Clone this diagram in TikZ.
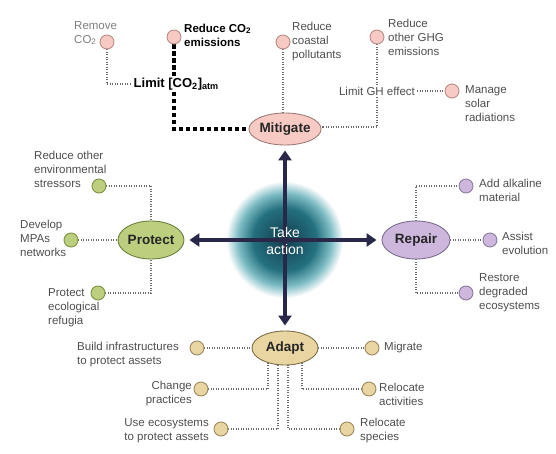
\documentclass[tikz,border=0pt]{standalone}
\usepackage{fontspec}
\setmainfont{Liberation Sans}
\usetikzlibrary{arrows.meta,shapes.geometric,backgrounds}

% palette
\definecolor{navy}{HTML}{2A2849}
\definecolor{dotgray}{HTML}{6B6B6B}
\definecolor{labgray}{HTML}{4E4E4E}
\definecolor{lightlab}{HTML}{7E7E7E}
\definecolor{pinkF}{HTML}{F7CBC4}
\definecolor{pinkD}{HTML}{A07C76}
\definecolor{pinkC}{HTML}{B98E88}
\definecolor{greenF}{HTML}{BCCF7E}
\definecolor{greenD}{HTML}{6E7F3B}
\definecolor{greenC}{HTML}{7F9444}
\definecolor{purpF}{HTML}{CDB7DD}
\definecolor{purpD}{HTML}{7F6E8E}
\definecolor{purpC}{HTML}{8E7C9E}
\definecolor{tanF}{HTML}{E8D5A2}
\definecolor{tanD}{HTML}{7F6E4A}
\definecolor{tanC}{HTML}{9C8A5E}
\definecolor{glowA}{HTML}{133D4E}
\definecolor{glowC}{HTML}{24707F}
\definecolor{glowD}{HTML}{7DBCC4}

\tikzset{
  hub/.style={ellipse, minimum width=66pt, minimum height=32pt, inner sep=0pt,
    line width=0.9pt, font=\fontsize{13.5}{15}\selectfont\bfseries, text=black!85},
  dotc/.style={circle, minimum size=14pt, inner sep=0pt, line width=0.9pt},
  pinkdot/.style={dotc, fill=pinkF, draw=pinkC},
  greendot/.style={dotc, fill=greenF, draw=greenC},
  purpdot/.style={dotc, fill=purpF, draw=purpC},
  tandot/.style={dotc, fill=tanF, draw=tanC},
  lab/.style={font=\fontsize{11.5}{14}\selectfont, text=labgray, inner sep=0pt, align=left},
  boldlab/.style={lab, text=black, font=\fontsize{11.5}{14}\selectfont\bfseries},
  dotline/.style={draw=dotgray, line width=1.2pt, dash pattern=on 1pt off 1.5pt},
  thickline/.style={draw=black, line width=4.5pt, dash pattern=on 4.5pt off 2.5pt},
  bigarrow/.style={draw=navy, line width=4pt, shorten >=5pt,
    -{Triangle[length=10pt,width=13pt]}},
}

\begin{document}
\begin{tikzpicture}[x=1pt,y=-1pt]
\useasboundingbox (0,0) rectangle (556,454);

% hubs
\coordinate (hubc) at (285,240);
\node[hub, fill=pinkF, draw=pinkD] (mit) at (285,129) {Mitigate};
\node[hub, fill=greenF, draw=greenD, minimum height=38pt] (pro) at (151,240) {Protect};
\node[hub, fill=purpF, draw=purpD, minimum width=68pt, minimum height=38pt] (rep) at (416,240) {Repair};
\node[hub, fill=tanF, draw=tanD, minimum height=34pt] (ada) at (285,348) {Adapt};
\node[font=\fontsize{14}{17}\selectfont, text=white, align=center, inner sep=0pt] (act) at (285,241) {Take\\action};

% Mitigate branch
\node[pinkdot] (rmv) at (107,42) {};
\node[lab, text=lightlab, anchor=west] at (74,33) {Remove\\CO\textsubscript{2}};
\node[pinkdot] (rco) at (174,37) {};
\node[boldlab, anchor=west] at (184,35) {Reduce CO\textsubscript{2}\\emissions};
\node[boldlab, font=\fontsize{13}{15}\selectfont\bfseries, anchor=west, inner sep=1.5pt] (lim) at (132,84) {Limit [CO\textsubscript{2}]\textsubscript{atm}};
\node[pinkdot] (rcp) at (283,42) {};
\node[lab, anchor=west] at (292,42) {Reduce\\coastal\\pollutants};
\node[pinkdot] (rgh) at (377,37) {};
\node[lab, anchor=west] at (388,37) {Reduce\\other GHG\\emissions};
\node[lab, inner sep=2pt] (lgh) at (377,91) {Limit GH effect};
\node[pinkdot] (msr) at (452,91) {};
\node[lab, anchor=west] at (465,104) {Manage\\solar\\radiations};

% Protect branch
\node[greendot] (ros) at (99,186) {};
\node[lab, anchor=west] at (34,169) {Reduce other\\environmental\\stressors};
\node[greendot] (mpa) at (71,240) {};
\node[lab, anchor=west] at (20,238) {Develop\\MPAs\\networks};
\node[greendot] (ref) at (98,293) {};
\node[lab, anchor=west] at (48,308) {Protect\\ecological\\refugia};

% Repair branch
\node[purpdot] (alk) at (466,186) {};
\node[lab, anchor=west] at (479,190) {Add alkaline\\material};
\node[purpdot] (asv) at (490,240) {};
\node[lab, anchor=west] at (502,243) {Assist\\evolution};
\node[purpdot] (rst) at (466,293) {};
\node[lab, anchor=west] at (479,293) {Restore\\degraded\\ecosystems};

% Adapt branch
\node[tandot] (bld) at (197,348) {};
\node[lab, anchor=west] at (77,355) {Build infrastructures\\to protect assets};
\node[tandot] (mig) at (372,348) {};
\node[lab, anchor=west] at (384,348) {Migrate};
\node[tandot] (chg) at (201,389) {};
\node[lab, anchor=east, align=right] at (192,394) {Change\\practices};
\node[tandot] (rac) at (369,389) {};
\node[lab, anchor=west] at (379,394) {Relocate\\activities};
\node[tandot] (use) at (221,429) {};
\node[lab, anchor=east, align=right] at (209,431) {Use ecosystems\\to protect assets};
\node[tandot] (rsp) at (347,429) {};
\node[lab, anchor=west] at (360,431) {Relocate\\species};

\begin{scope}[on background layer]
  % soft teal halo, built from concentric discs
  \foreach \r in {58,57,...,47}{
    \pgfmathtruncatemacro\p{(59-\r)*100/12}
    \fill[glowD!\p!white] (hubc) circle[radius=\r pt];
  }
  \foreach \r in {46,45,...,32}{
    \pgfmathtruncatemacro\p{(47-\r)*100/15}
    \fill[glowC!\p!glowD] (hubc) circle[radius=\r pt];
  }
  \foreach \r in {31,30,...,1}{
    \pgfmathtruncatemacro\p{(32-\r)*100/31}
    \fill[glowA!\p!glowC] (hubc) circle[radius=\r pt];
  }
  % the four arrows
  \draw[bigarrow] (hubc) -- (mit.south);
  \draw[bigarrow] (hubc) -- (pro.east);
  \draw[bigarrow] (hubc) -- (rep.west);
  \draw[bigarrow] (hubc) -- (ada.north);

  % Mitigate links
  \draw[dotline] (rmv) |- (lim.west);
  \draw[thickline] (rco) -- (rco |- lim.north);
  \draw[thickline] (rco |- lim.south) |- (mit.west);
  \draw[dotline] (rcp) -- (rcp |- mit.north);
  \draw[dotline] (rgh) -- (lgh);
  \draw[dotline] (lgh) -- (msr);
  \draw[dotline] (lgh.south) |- ([yshift=2pt]mit.east);

  % Protect links
  \draw[dotline] (ros) -| (pro.north);
  \draw[dotline] (mpa) -- (pro);
  \draw[dotline] (ref) -| (pro.south);

  % Repair links
  \draw[dotline] (rep.north) |- (alk);
  \draw[dotline] (rep) -- (asv);
  \draw[dotline] (rep.south) |- (rst);

  % Adapt links
  \draw[dotline] (bld) -- (ada);
  \draw[dotline] (ada) -- (mig);
  \draw[dotline] (chg) -| ([xshift=-17pt]ada.center);
  \draw[dotline] (use) -| ([xshift=-7pt]ada.center);
  \draw[dotline] (rsp) -| ([xshift=3pt]ada.center);
  \draw[dotline] (rac) -| ([xshift=17pt]ada.center);
\end{scope}
\end{tikzpicture}
\end{document}
